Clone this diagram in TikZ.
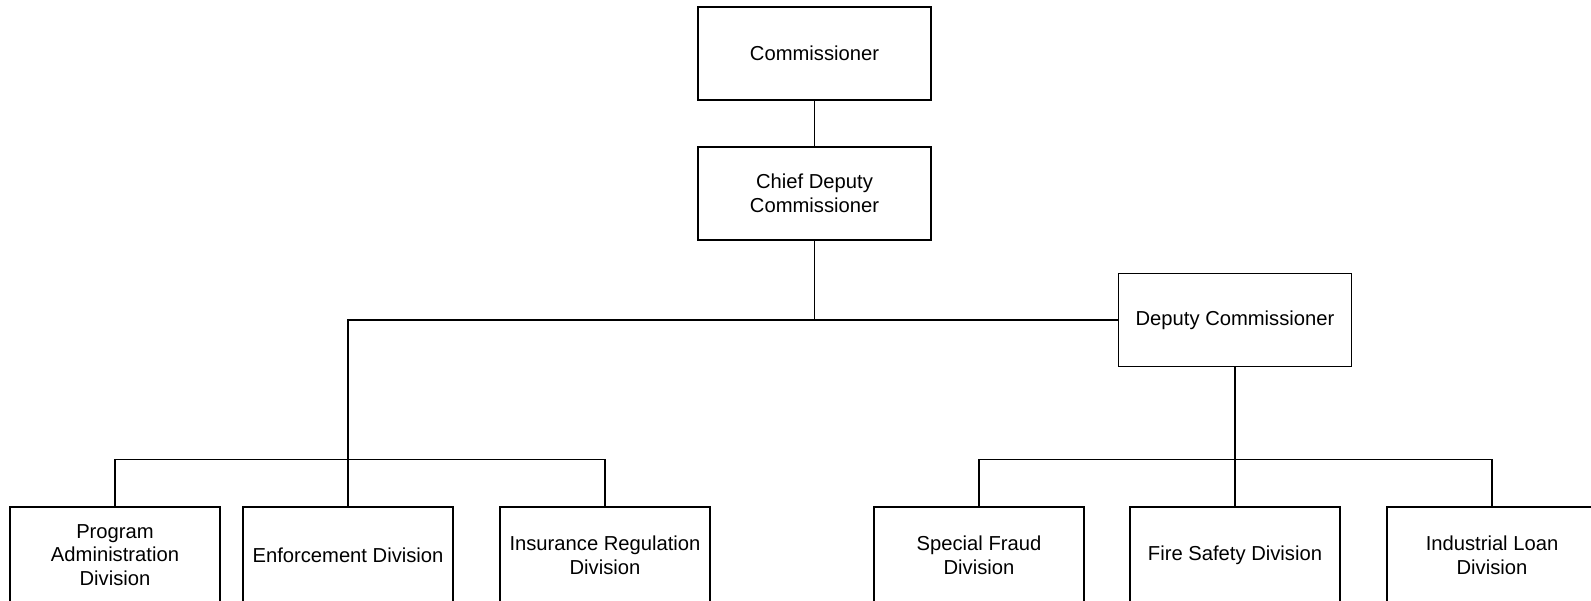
\documentclass[tikz,border=0pt]{standalone}
\usepackage{fontspec}
\setmainfont{Liberation Sans}
\usepackage{tikz}
\usetikzlibrary{positioning, calc}

\begin{document}
\begin{tikzpicture}[
    x=0.02cm, y=-0.02cm,
    office/.style={rectangle, draw, line width=0.8pt, minimum width=4.66cm, minimum height=1.86cm,
        inner sep=0pt, align=center, font={\fontsize{11.5}{13.4}\selectfont}},
    division/.style={office, minimum width=4.2cm, minimum height=1.92cm},
    link/.style={line width=0.8pt}
]

    % Page frame (bottom row of boxes runs past the edge)
    \useasboundingbox (0,0) rectangle (1591,600);
    \clip (0,0) rectangle (1591,600);

    % --- Top of the chart ---
    \node[office] (comm) at (814.5,53.5) {Commissioner};
    \node[office] (chief) at (814.5,193.5) {Chief Deputy\\Commissioner};
    \node[office] (deputy) at (1235,320) {Deputy Commissioner};

    % --- Divisions ---
    \foreach \x/\name/\txt in {115/prog/Program\\Administration\\Division,
                               348/enf/Enforcement Division,
                               605/ins/Insurance Regulation\\Division,
                               979/fraud/Special Fraud\\Division,
                               1235/fire/Fire Safety Division,
                               1492/loan/Industrial Loan\\Division} {
        \node[division] (\name) at (\x,555) {\txt};
    }

    % bus lines above the divisions
    \coordinate (lbus) at ($(enf.north)+(0,-47)$);
    \coordinate (rbus) at ($(fire.north)+(0,-47)$);

    % --- Connectors ---
    \draw[link] (comm) -- (chief);
    \draw[link] (chief.south) -- (chief.south |- deputy.west);
    \draw[link] (enf.north) |- (deputy.west);
    \draw[link] (prog.north) -- (prog.north |- lbus) -- (ins.north |- lbus) -- (ins.north);
    \draw[link] (deputy) -- (fire);
    \draw[link] (fraud.north) -- (fraud.north |- rbus) -- (loan.north |- rbus) -- (loan.north);

\end{tikzpicture}
\end{document}
